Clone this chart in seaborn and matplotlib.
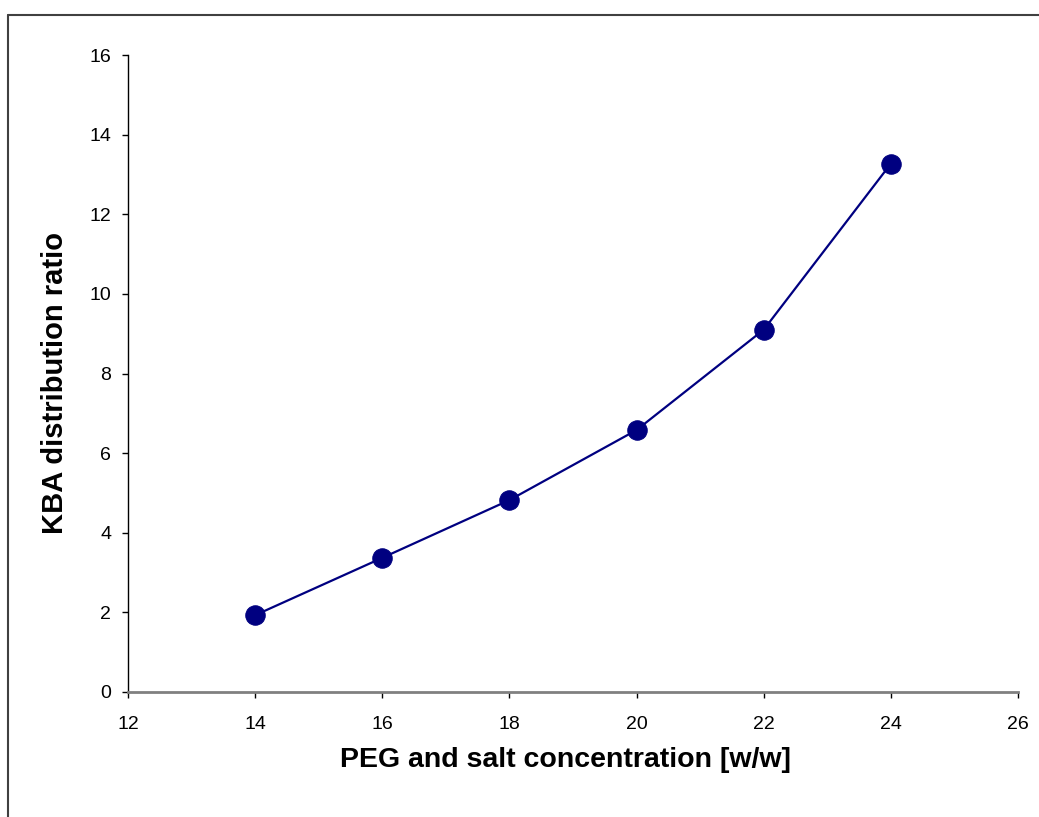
import matplotlib
matplotlib.use("Agg")
import matplotlib.pyplot as plt
from matplotlib.lines import Line2D
import seaborn as sns
import pandas as pd

# PEG/salt concentration series and measured KBA distribution ratios
concentration = [14, 16, 18, 20, 22, 24]
kba_ratio = [1.93, 3.37, 4.82, 6.58, 9.10, 13.27]
ratio_err = [0.08, 0.10, 0.08, 0.15, 0.10, 0.10]

x_ticks = [12, 14, 16, 18, 20, 22, 24, 26]
y_ticks = [0, 2, 4, 6, 8, 10, 12, 14, 16]

df = pd.DataFrame({"conc": concentration, "ratio": kba_ratio})

sns.set_style("white")
plt.rcParams["font.family"] = ["Liberation Sans", "DejaVu Sans"]

W, H = 1039, 817
fig = plt.figure(figsize=(W / 100, H / 100), dpi=100)
ax = fig.add_axes([128 / W, 1 - 692 / H, (1018 - 128) / W, (692 - 55) / H])

navy = "#000080"
ax.errorbar(concentration, kba_ratio, yerr=ratio_err, fmt="none",
            ecolor="black", elinewidth=1.0, capsize=4, capthick=1.0, zorder=2)
sns.lineplot(data=df, x="conc", y="ratio", ax=ax, color=navy, linewidth=1.6,
             marker="o", markersize=14, markeredgecolor=navy,
             markerfacecolor=navy, zorder=3)

ax.set_xlim(12, 26)
ax.set_ylim(0, 16)
ax.set_xticks(x_ticks)
ax.set_yticks(y_ticks)
ax.tick_params(axis="both", labelsize=14, direction="out", length=4.5, width=1,
               colors="black", labelcolor="black", bottom=True, left=True)
ax.tick_params(axis="x", pad=12.5)
ax.tick_params(axis="y", pad=7.5)

for side in ("top", "right"):
    ax.spines[side].set_visible(False)
ax.spines["left"].set_color("black")
ax.spines["left"].set_linewidth(1.0)
ax.spines["bottom"].set_color("#808080")
ax.spines["bottom"].set_linewidth(2.0)

ax.set_xlabel("PEG and salt concentration [w/w]", fontsize=20.5,
              fontweight="bold", color="black")
ax.set_ylabel("KBA distribution ratio", fontsize=21,
              fontweight="bold", color="black")
ax.xaxis.label.set_va("center")
ax.yaxis.label.set_va("center")
ax.xaxis.set_label_coords(0.5 - 8 / 890, -(760 - 692) / 637)
ax.yaxis.set_label_coords(-(128 - 55) / 890, 0.5 - 10 / 637)

# outer frame along the top and left edges of the figure
fig.add_artist(Line2D([8 / W, 1], [1 - 15 / H, 1 - 15 / H],
                      transform=fig.transFigure, color="#404040", linewidth=1.5))
fig.add_artist(Line2D([8 / W, 8 / W], [0, 1 - 15 / H],
                      transform=fig.transFigure, color="#404040", linewidth=1.5))

fig.savefig("out.png", dpi=100)
